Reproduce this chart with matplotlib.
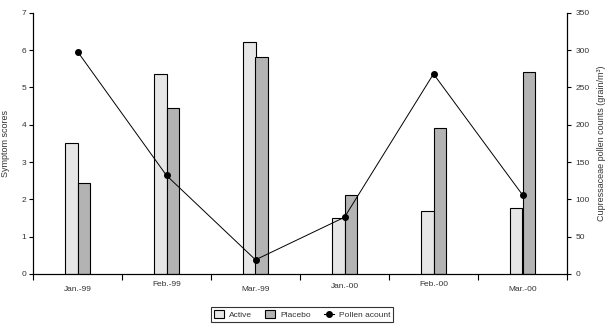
import matplotlib
matplotlib.use("Agg")
import matplotlib.pyplot as plt
import numpy as np
from matplotlib.patches import Patch
from matplotlib.lines import Line2D

categories = ["Jan.-99", "Feb.-99", "Mar.-99", "Jan.-00", "Feb.-00", "Mar.-00"]
active = [3.52, 5.35, 6.22, 1.51, 1.70, 1.78]
placebo = [2.43, 4.46, 5.80, 2.11, 3.92, 5.40]
pollen = [298, 132, 19, 76, 268, 106]
left_ticks = [0, 1, 2, 3, 4, 5, 6, 7]
right_ticks = [0, 50, 100, 150, 200, 250, 300, 350]

plt.rcParams['font.family'] = ['Liberation Sans', 'DejaVu Sans']
txt = '#333333'

fig = plt.figure(figsize=(6.12, 3.28), dpi=100)
W, H = 612, 328
ax = fig.add_axes([33 / W, 54 / H, (567 - 33) / W, (274 - 12.7) / H])
x = np.arange(len(categories))
bw = 0.14
ax.bar(x - bw / 2, active, bw, color='#e6e6e6', edgecolor='black', linewidth=0.8, zorder=2)
ax.bar(x + bw / 2, placebo, bw, color='#b3b3b3', edgecolor='black', linewidth=0.8, zorder=2)
ax.set_xlim(-0.5, len(categories) - 0.5)
ax.set_ylim(0, 7)
ax.set_yticks(left_ticks)
ax.set_xticks(np.arange(len(categories) + 1) - 0.5)
ax.set_xticklabels([])
ax.tick_params(axis='x', direction='out', length=4, width=0.8)
ax.tick_params(axis='y', direction='out', length=3, width=0.8, labelsize=6, labelcolor=txt, pad=2)
ax.spines['top'].set_visible(False)
for s in ['left', 'bottom', 'right']:
    ax.spines[s].set_linewidth(0.8)
offs = [0, 1, 0, 0, 1, 0]
for i, c in enumerate(categories):
    dy = -0.045 if offs[i] == 0 else -0.025
    if i == 3:
        dy = -0.035
    ax.text(i, dy, c, transform=ax.get_xaxis_transform(), ha='center', va='top',
            fontsize=6, color=txt)
ax.set_ylabel("Symptom scores", fontsize=6.5, color=txt)
ax.yaxis.set_label_coords((10 - 33) / 534, 0.5)

ax2 = ax.twinx()
ax2.plot(x, pollen, color='black', linewidth=0.7, marker='o', markersize=4, zorder=3)
ax2.set_ylim(0, 350)
ax2.set_yticks(right_ticks)
ax2.tick_params(axis='y', direction='out', length=3, width=0.8, labelsize=6, labelcolor=txt, pad=3)
ax2.spines['top'].set_visible(False)
ax2.spines['right'].set_linewidth(0.8)
ax2.set_ylabel("Cupressaceae pollen counts (grain/m³)", fontsize=6.5, color=txt)
ax2.yaxis.set_label_coords((597 - 33) / 534, 0.5)

handles = [Patch(facecolor='#e6e6e6', edgecolor='black', linewidth=0.8),
           Patch(facecolor='#b3b3b3', edgecolor='black', linewidth=0.8),
           Line2D([], [], color='black', linewidth=0.8, marker='o', markersize=4)]
leg = fig.legend(handles, ["Active", "Placebo", "Pollen acount"], loc='center',
                 bbox_to_anchor=(302 / W, 1 - 314.5 / H), ncol=3, fontsize=6,
                 frameon=True, fancybox=False, edgecolor='black', handlelength=1.2,
                 handleheight=1.0, columnspacing=1.6, handletextpad=0.6,
                 borderpad=0.35, labelcolor=txt)
leg.get_frame().set_linewidth(0.8)

fig.savefig("out.png", dpi=100)
